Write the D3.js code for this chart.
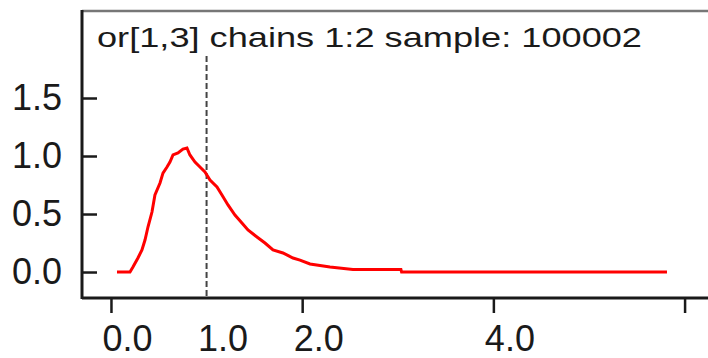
<!DOCTYPE html>
<html>
<head>
<meta charset="utf-8">
<script src="https://cdn.jsdelivr.net/npm/d3@7"></script>
<style>
    body { margin: 0; background: #fff; }
    svg { display: block; }
    .axis text { font-family: "Liberation Sans", Arial, sans-serif; font-size: 36px; fill: #1a1a1a; }
    .axis line { stroke: #1a1a1a; stroke-width: 2.5; }
</style>
</head>
<body>
<div class="plot"></div>
<script>
// kernel density of or[1,3]
const densX = [0.063, 0.199, 0.230, 0.282, 0.324, 0.356, 0.387, 0.429, 0.460, 0.513, 0.544, 0.586,
    0.617, 0.649, 0.701, 0.753, 0.795, 0.826, 0.879, 0.931, 0.983, 1.036, 1.109, 1.161, 1.224,
    1.297, 1.370, 1.433, 1.527, 1.611, 1.695, 1.799, 1.904, 1.977, 2.082, 2.291, 2.531, 3.033,
    3.040, 5.816];
const densY = [0.0, 0.0, 0.043, 0.121, 0.19, 0.276, 0.388, 0.517, 0.664, 0.767, 0.853, 0.905,
    0.948, 1.009, 1.026, 1.06, 1.069, 1.009, 0.948, 0.905, 0.862, 0.793, 0.733, 0.664, 0.578,
    0.491, 0.422, 0.362, 0.302, 0.25, 0.19, 0.164, 0.121, 0.103, 0.069, 0.043, 0.022, 0.022,
    0.0, 0.0];
const refValue = 1.0;
const yTicks = [0, 0.5, 1.0, 1.5];
const xTickMarks = [0, 2, 4, 6];
const xTickLabels = [0, 1, 2, 4];
const title = "or[1,3] chains 1:2 sample: 100002";

const width = 708, height = 358;
const margin = { left: 82, right: 708, top: 11, bottom: 298 };

const svg = d3.select(".plot")
    .append("svg")
    .attr("width", width)
    .attr("height", height);

const x = d3.scaleLinear()
    .domain([-0.303, 6.245])
    .range([margin.left, margin.right]);

const y = d3.scaleLinear()
    .domain([-0.224, 2.25])
    .range([margin.bottom, margin.top]);

const data = densX.map((d, i) => ({ x: d, y: densY[i] }));

// y axis, ticks point inward
svg.append("g")
    .attr("class", "axis")
    .attr("transform", `translate(${margin.left}, 0)`)
    .call(d3.axisLeft(y).tickValues(yTicks).tickFormat(d3.format(".1f")).tickSize(-15).tickPadding(20))
    .call(g => g.select(".domain").remove());

// x axis tick marks
svg.append("g")
    .attr("class", "axis")
    .attr("transform", `translate(0, ${margin.bottom})`)
    .call(d3.axisBottom(x).tickValues(xTickMarks).tickSize(15).tickFormat(""))
    .call(g => g.select(".domain").remove());

// x axis labels (sit a little right of the values)
svg.append("g")
    .attr("class", "axis")
    .attr("transform", `translate(0, ${margin.bottom})`)
    .call(d3.axisBottom(x).tickValues(xTickLabels).tickSize(0).tickPadding(27).tickFormat(d3.format(".1f")))
    .call(g => g.select(".domain").remove())
    .selectAll("text").attr("dx", 16);

// reference line
svg.append("line")
    .attr("x1", x(refValue)).attr("x2", x(refValue))
    .attr("y1", margin.top).attr("y2", margin.bottom)
    .attr("stroke", "#444")
    .attr("stroke-width", 2)
    .attr("stroke-dasharray", "6,3");

// title with white backing up to the top of the frame
const titleText = svg.append("text")
    .attr("x", margin.left + 15)
    .attr("y", 47)
    .attr("font-family", "Liberation Sans, Arial, sans-serif")
    .attr("font-size", 28)
    .attr("fill", "#1a1a1a")
    .attr("textLength", 545)
    .attr("lengthAdjust", "spacingAndGlyphs")
    .text(title);
const bb = titleText.node().getBBox();
svg.insert("rect", () => titleText.node())
    .attr("x", bb.x).attr("y", margin.top)
    .attr("width", bb.width).attr("height", bb.y + bb.height - margin.top)
    .attr("fill", "#fff");

const lineGenerator = d3.line()
    .x(d => x(d.x))
    .y(d => y(d.y));

svg.append("path")
    .datum(data)
    .attr("fill", "none")
    .attr("stroke", "#ff0000")
    .attr("stroke-width", 3)
    .attr("d", lineGenerator);

// frame
svg.append("line")
    .attr("x1", margin.left).attr("x2", margin.right).attr("y1", margin.top).attr("y2", margin.top)
    .attr("stroke", "#777").attr("stroke-width", 2.5);
svg.append("line")
    .attr("x1", margin.left).attr("x2", margin.left).attr("y1", margin.top - 1).attr("y2", margin.bottom + 1)
    .attr("stroke", "#1a1a1a").attr("stroke-width", 3);
svg.append("line")
    .attr("x1", margin.left).attr("x2", margin.right).attr("y1", margin.bottom).attr("y2", margin.bottom)
    .attr("stroke", "#1a1a1a").attr("stroke-width", 3);
</script>
</body>
</html>
